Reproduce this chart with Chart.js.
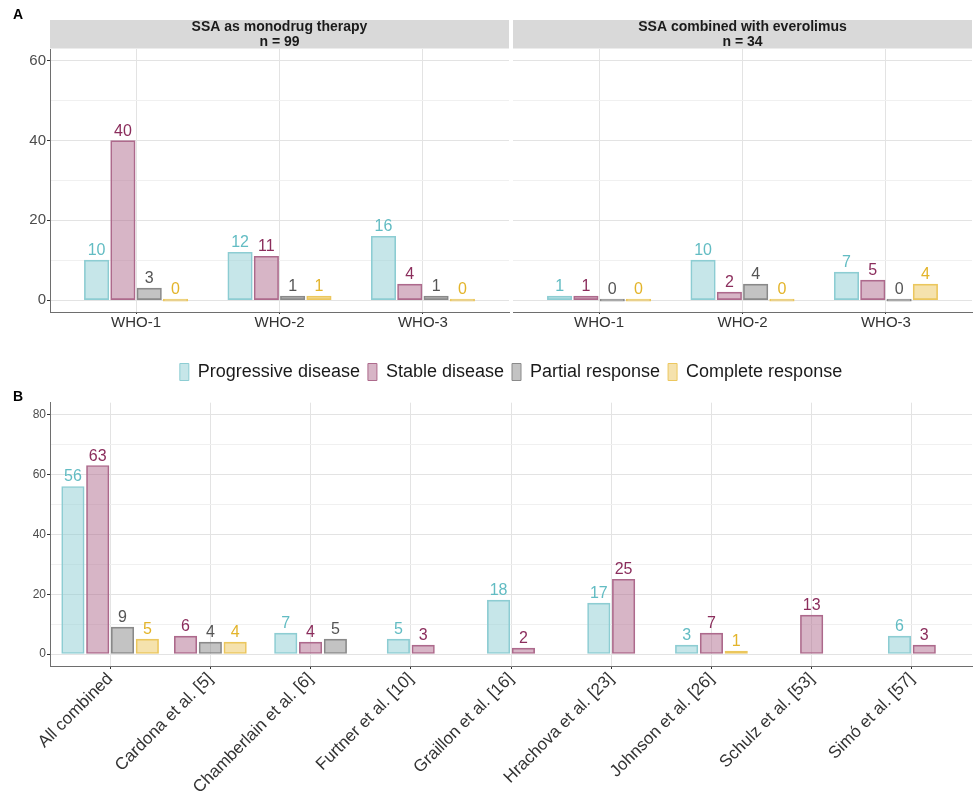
<!DOCTYPE html>
<html>
<head>
<meta charset="utf-8">
<script src="https://cdn.jsdelivr.net/npm/chart.js@4"></script>
<style>
  body { margin: 0; background: #fff; }
  #figure { position: relative; width: 975px; height: 794px; font-family: "Liberation Sans", Arial, sans-serif; }
  #figure canvas { position: absolute; }
  .tag { position: absolute; font-weight: bold; font-size: 14px; line-height: 16px; color: #000; }
</style>
</head>
<body>
<div id="figure">
  <canvas id="chart-mono" width="511" height="340" style="left:0;top:0;width:511px;height:340px"></canvas>
  <canvas id="chart-eve" width="464" height="340" style="left:511px;top:0;width:464px;height:340px"></canvas>
  <canvas id="chart-studies" width="975" height="454" style="left:0;top:340px;width:975px;height:454px"></canvas>
  <div class="tag" style="left:13px;top:6px">A</div>
  <div class="tag" style="left:13px;top:388px">B</div>
</div>
<script>
const FONT = '"Liberation Sans", Arial, sans-serif';

const RESPONSES = ["Progressive disease", "Stable disease", "Partial response", "Complete response"];

// Panel A: WHO grade
const GRADES = ["WHO-1", "WHO-2", "WHO-3"];
const MONO_PD = [10, 12, 16];
const MONO_SD = [40, 11, 4];
const MONO_PR = [3, 1, 1];
const MONO_CR = [0, 1, 0];
const EVE_PD = [1, 10, 7];
const EVE_SD = [1, 2, 5];
const EVE_PR = [0, 4, 0];
const EVE_CR = [0, 0, 4];
const TOP_TICKS = [0, 10, 20, 30, 40, 50, 60];

// Panel B: per study (null = not reported)
const STUDIES = ["All combined", "Cardona et al. [5]", "Chamberlain et al. [6]", "Furtner et al. [10]", "Graillon et al. [16]", "Hrachova et al. [23]", "Johnson et al. [26]", "Schulz et al. [53]", "Simó et al. [57]"];
const STUDY_PD = [56, null, 7, 5, 18, 17, 3, null, 6];
const STUDY_SD = [63, 6, 4, 3, 2, 25, 7, 13, 3];
const STUDY_PR = [9, 4, 5, null, null, null, null, null, null];
const STUDY_CR = [5, 4, null, null, null, null, 1, null, null];
const BOTTOM_TICKS = [0, 10, 20, 30, 40, 50, 60, 70, 80];

// styles
const FILLS = ["rgba(141, 205, 211, 0.5)", "rgba(175, 107, 141, 0.5)", "rgba(135, 135, 135, 0.5)", "rgba(235, 197, 91, 0.5)"];
const LINES = ["#8dcdd3", "#ad6a8c", "#8a8a8a", "#ecc75e"];
const TEXTS = ["#62bcc3", "#8b2d5c", "#555555", "#e3b42a"];
const GRID_MAJOR = "#e3e3e3";
const GRID_MINOR = "#f0f0f0";
const AXIS = "#6e6e6e";

Chart.defaults.font.family = FONT;

const makeDatasets = (series) =>
	series.map((values, k) => ({
		label: RESPONSES[k],
		data: values.map((y, i) => ({ x: i + 1, y })),
		backgroundColor: FILLS[k],
		borderColor: LINES[k],
		borderWidth: 1,
		borderSkipped: false,
		labelColor: TEXTS[k],
	}));

// numbers above the bars
const barLabels = {
	id: "barLabels",
	afterDatasetsDraw(chart, args, opts) {
		const { ctx } = chart;
		ctx.save();
		ctx.font = `${opts.size}px ${FONT}`;
		ctx.textAlign = "center";
		ctx.textBaseline = "alphabetic";
		chart.data.datasets.forEach((ds, i) => {
			chart.getDatasetMeta(i).data.forEach((bar, j) => {
				const v = ds.data[j].y;
				if (v === null) return;
				ctx.fillStyle = ds.labelColor;
				ctx.fillText(String(v), bar.x, Math.min(bar.y, bar.base) - opts.gap);
			});
		});
		ctx.restore();
	},
};

// grey facet header above the plot area
const strip = {
	id: "strip",
	beforeDraw(chart, args, opts) {
		const { ctx, chartArea: a } = chart;
		ctx.save();
		ctx.fillStyle = "#d9d9d9";
		ctx.fillRect(a.left, opts.top, a.right - a.left, a.top - opts.top - 0.5);
		ctx.fillStyle = "#1a1a1a";
		ctx.font = `bold 14px ${FONT}`;
		ctx.textAlign = "center";
		ctx.textBaseline = "middle";
		const cx = (a.left + a.right) / 2;
		opts.lines.forEach((t, i) => ctx.fillText(t, cx, opts.top + 7.5 + i * 15));
		ctx.restore();
	},
};

const gridColor = (c) => (c.tick && c.tick.value % 20 ? GRID_MINOR : GRID_MAJOR);
const tickColor = (c) => (c.tick && c.tick.value % 20 ? "rgba(0,0,0,0)" : "#333");

const facetChart = (id, series, title, showY) =>
	new Chart(document.getElementById(id), {
		type: "bar",
		data: { datasets: makeDatasets(series) },
		plugins: [strip, barLabels],
		options: {
			responsive: false,
			animation: false,
			events: [],
			layout: { padding: { top: 49, bottom: 0, left: showY ? 0 : 2, right: showY ? 2 : 3 } },
			datasets: { bar: { barThickness: 26.3, maxBarThickness: 24.5, minBarLength: 2 } },
			plugins: {
				legend: { display: false },
				tooltip: { enabled: false },
				strip: { top: 20, lines: title },
				barLabels: { size: 16, gap: 5 },
			},
			scales: {
				x: {
					type: "linear",
					min: 0.4,
					max: GRADES.length + 0.6,
					offset: false,
					afterBuildTicks: (s) => { s.ticks = GRADES.map((_, i) => ({ value: i + 1 })); },
					afterFit: (s) => { s.height = 28; },
					ticks: { callback: (v) => GRADES[v - 1], font: { size: 15 }, color: "#333", padding: 0, maxRotation: 0, autoSkip: false },
					grid: { offset: false, color: GRID_MAJOR, tickLength: 2, tickColor: "#333" },
					border: { color: AXIS },
				},
				y: {
					min: -3,
					max: 63,
					afterBuildTicks: (s) => { s.ticks = TOP_TICKS.map((v) => ({ value: v })); },
					afterFit: (s) => { s.width = showY ? 50 : 0; },
					ticks: { display: showY, callback: (v) => (v % 20 === 0 ? v : ""), font: { size: 15 }, color: "#4d4d4d", padding: 1 },
					grid: { color: gridColor, drawTicks: showY, tickLength: 3, tickColor },
					border: { display: showY, color: AXIS },
				},
			},
		},
	});

facetChart("chart-mono", [MONO_PD, MONO_SD, MONO_PR, MONO_CR], ["SSA as monodrug therapy", "n = 99"], true);
facetChart("chart-eve", [EVE_PD, EVE_SD, EVE_PR, EVE_CR], ["SSA combined with everolimus", "n = 34"], false);

new Chart(document.getElementById("chart-studies"), {
	type: "bar",
	data: { datasets: makeDatasets([STUDY_PD, STUDY_SD, STUDY_PR, STUDY_CR]) },
	plugins: [barLabels],
	options: {
		responsive: false,
		animation: false,
		events: [],
		layout: { padding: { top: 15, bottom: 0, left: 0, right: 3 } },
		datasets: { bar: { barThickness: 24.8, maxBarThickness: 22.5, minBarLength: 2, skipNull: true } },
		plugins: {
			legend: {
				position: "top",
				fullSize: false,
				labels: { boxWidth: 9, boxHeight: 17, padding: 8, font: { size: 18 }, color: "#1a1a1a" },
			},
			// empty title used as a spacer between legend and plot
			title: { display: true, text: "", weight: 500, font: { size: 1 }, padding: { top: 0, bottom: 10.5 } },
			tooltip: { enabled: false },
			barLabels: { size: 16, gap: 5 },
		},
		scales: {
			x: {
				type: "linear",
				min: 0.4,
				max: STUDIES.length + 0.6,
				offset: false,
				afterBuildTicks: (s) => { s.ticks = STUDIES.map((_, i) => ({ value: i + 1 })); },
				afterFit: (s) => { s.height = 128; },
				ticks: { callback: (v) => STUDIES[v - 1], font: { size: 17 }, color: "#333", padding: 0, minRotation: 45, maxRotation: 45, autoSkip: false },
				grid: { offset: false, color: GRID_MAJOR, tickLength: 3, tickColor: "#333" },
				border: { color: AXIS },
			},
			y: {
				min: -4,
				max: 84,
				afterBuildTicks: (s) => { s.ticks = BOTTOM_TICKS.map((v) => ({ value: v })); },
				afterFit: (s) => { s.width = 50; },
				ticks: { callback: (v) => (v % 20 === 0 ? v : ""), font: { size: 12 }, color: "#4d4d4d", padding: 1 },
				grid: { color: gridColor, tickLength: 3, tickColor },
				border: { color: AXIS },
			},
		},
	},
});
</script>
</body>
</html>
